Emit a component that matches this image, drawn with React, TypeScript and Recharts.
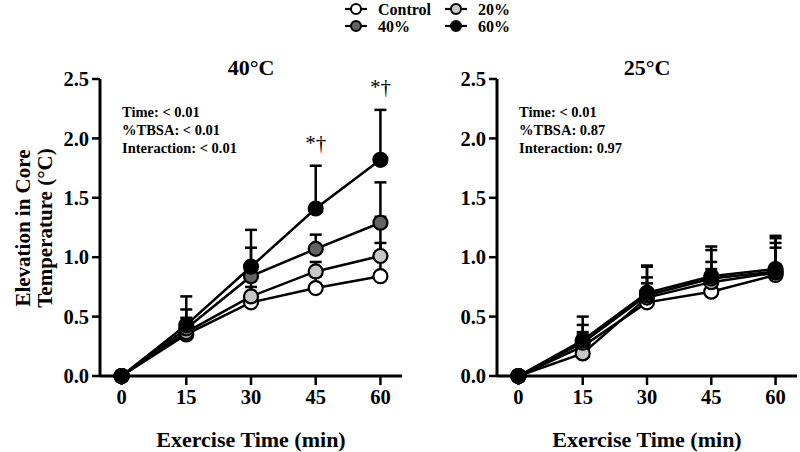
import React from 'react';
import { LineChart, Line, XAxis, YAxis, ErrorBar, LabelList } from 'recharts';

const times = [0, 15, 30, 45, 60];
const seriesKeys = ['control', 'p20', 'p40', 'p60'];
const seriesNames = ['Control', '20%', '40%', '60%'];
const seriesFills = ['#ffffff', '#c8c8c8', '#636363', '#000000'];
const yTicks = [0, 0.5, 1.0, 1.5, 2.0, 2.5];

// 40°C panel
const hotControl = [0, 0.35, 0.62, 0.74, 0.84];
const hotControlErr = [0, 0.1, 0.13, 0.1, 0.28];
const hot20 = [0, 0.37, 0.67, 0.88, 1.01];
const hot20Err = [0, 0.12, 0.18, 0.08, 0.33];
const hot40 = [0, 0.4, 0.84, 1.07, 1.29];
const hot40Err = [0, 0.16, 0.24, 0.12, 0.34];
const hot60 = [0, 0.43, 0.92, 1.41, 1.82];
const hot60Err = [0, 0.24, 0.31, 0.36, 0.42];
const hotSig = ['', '', '', '*†', '*†'];
const hotStats = ['Time: < 0.01', '%TBSA: < 0.01', 'Interaction: < 0.01'];

// 25°C panel
const coolControl = [0, 0.25, 0.62, 0.71, 0.85];
const coolControlErr = [0, 0.12, 0.16, 0.19, 0.23];
const cool20 = [0, 0.19, 0.66, 0.79, 0.87];
const cool20Err = [0, 0.16, 0.17, 0.17, 0.25];
const cool40 = [0, 0.28, 0.68, 0.82, 0.88];
const cool40Err = [0, 0.15, 0.24, 0.24, 0.28];
const cool60 = [0, 0.3, 0.7, 0.84, 0.9];
const cool60Err = [0, 0.2, 0.23, 0.25, 0.28];
const coolSig = ['', '', '', '', ''];
const coolStats = ['Time: < 0.01', '%TBSA: 0.87', 'Interaction: 0.97'];

const FONT = "'Liberation Serif', 'Times New Roman', serif";

function buildRows(vals: number[][], errs: number[][], sig: string[]) {
  return times.map((t, i) => {
    const row: any = { t, sig: sig[i], sigTop: sig[i] ? vals[3][i] + errs[3][i] : null };
    seriesKeys.forEach((k, s) => {
      row[k] = vals[s][i];
      row[k + 'Err'] = [0, errs[s][i]];
    });
    return row;
  });
}

const hotRows = buildRows([hotControl, hot20, hot40, hot60], [hotControlErr, hot20Err, hot40Err, hot60Err], hotSig);
const coolRows = buildRows([coolControl, cool20, cool40, cool60], [coolControlErr, cool20Err, cool40Err, cool60Err], coolSig);

const tickStyle = { fontFamily: FONT, fontWeight: 'bold', fontSize: 20.5, fill: '#000' };

const SigLabel = (props: any) => {
  const { x, y, value } = props;
  if (!value || y == null) return null;
  return (
    <text x={x} y={y - 16} textAnchor="middle" fontFamily={FONT} fontSize={21} fill="#000">
      {value}
    </text>
  );
};

function Panel({ rows, left, width, yAxisWidth, marginRight }: any) {
  return (
    <div style={{ position: 'absolute', left, top: 0 }}>
      <LineChart width={width} height={452} data={rows} margin={{ top: 79, right: marginRight, bottom: 16, left: 0 }}>
        <XAxis
          dataKey="t"
          type="number"
          domain={[-5, 65]}
          ticks={times}
          height={60}
          axisLine={{ stroke: '#000', strokeWidth: 3 }}
          tickLine={{ stroke: '#000', strokeWidth: 2.5 }}
          tickSize={9}
          tickMargin={4}
          tick={tickStyle}
        />
        <YAxis
          type="number"
          domain={[0, 2.5]}
          ticks={yTicks}
          width={yAxisWidth}
          axisLine={{ stroke: '#000', strokeWidth: 3 }}
          tickLine={{ stroke: '#000', strokeWidth: 2.5 }}
          tickSize={8}
          tickMargin={3}
          tick={tickStyle}
          tickFormatter={(v: number) => v.toFixed(1)}
        />
        {seriesKeys.map((k, s) => (
          <Line
            key={k}
            dataKey={k}
            stroke="#000"
            strokeWidth={2.5}
            dot={{ r: 7, fill: seriesFills[s], stroke: '#000', strokeWidth: 2.2 }}
            activeDot={false}
            isAnimationActive={false}
          >
            <ErrorBar dataKey={k + 'Err'} direction="y" width={6} stroke="#000" strokeWidth={2.5} />
          </Line>
        ))}
        <Line dataKey="sigTop" stroke="none" dot={false} activeDot={false} isAnimationActive={false}>
          <LabelList dataKey="sig" content={SigLabel} />
        </Line>
      </LineChart>
    </div>
  );
}

const Overlay: React.FC = () => (
  <svg width={800} height={452} style={{ position: 'absolute', left: 0, top: 0, pointerEvents: 'none' }}>
    <g fontFamily={FONT} fontWeight="bold" fill="#000">
      {/* legend */}
      {seriesNames.map((n, i) => {
        const cx = i % 2 === 0 ? 356 : 456;
        const cy = i < 2 ? 9 : 26;
        return (
          <g key={n}>
            <line x1={cx - 11} x2={cx + 11} y1={cy} y2={cy} stroke="#000" strokeWidth={2.2} />
            <circle cx={cx} cy={cy} r={5} fill={seriesFills[i]} stroke="#000" strokeWidth={2} />
            <text x={cx + 22} y={cy + 5.5} fontSize={16}>{n}</text>
          </g>
        );
      })}
      {/* titles */}
      <text x={251} y={75} fontSize={22} textAnchor="middle">40°C</text>
      <text x={647} y={75} fontSize={22} textAnchor="middle">25°C</text>
      {hotStats.map((s, i) => (
        <text key={s} x={122} y={117 + i * 18} fontSize={14.5}>{s}</text>
      ))}
      {coolStats.map((s, i) => (
        <text key={s} x={519} y={117 + i * 18} fontSize={14.5}>{s}</text>
      ))}
      {/* axis titles */}
      <text x={251} y={447} fontSize={22} textAnchor="middle">Exercise Time (min)</text>
      <text x={647} y={447} fontSize={22} textAnchor="middle">Exercise Time (min)</text>
      <text transform="translate(30,228) rotate(-90)" fontSize={21} textAnchor="middle">Elevation in Core</text>
      <text transform="translate(52,228) rotate(-90)" fontSize={21} textAnchor="middle">Temperature (°C)</text>
    </g>
  </svg>
);

const App: React.FC = () => {
  return (
    <div style={{ position: 'absolute', left: 0, top: 0, width: 800, height: 452, background: '#fff', overflow: 'hidden' }}>
      <Panel rows={hotRows} left={0} width={420} yAxisWidth={100} marginRight={18} />
      <Panel rows={coolRows} left={400} width={400} yAxisWidth={97} marginRight={3} />
      <Overlay />
    </div>
  );
};

export default App;
